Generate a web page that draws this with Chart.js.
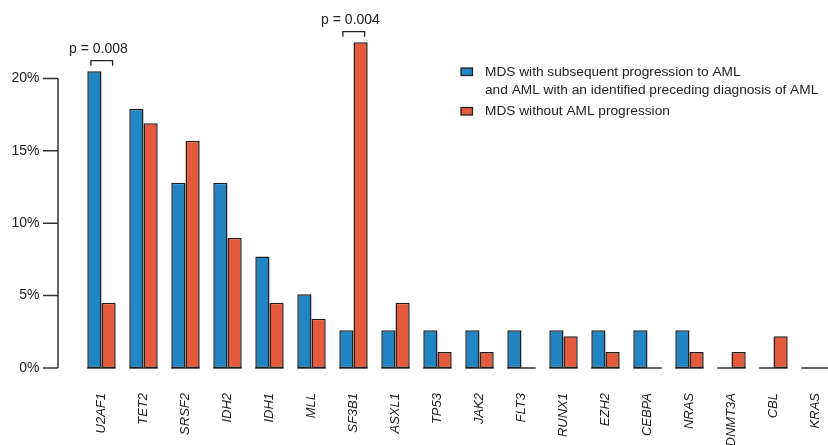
<!DOCTYPE html>
<html>
<head>
<meta charset="utf-8">
<script src="https://cdn.jsdelivr.net/npm/chart.js@4.4.1/dist/chart.umd.min.js"></script>
<style>
  html, body { margin: 0; padding: 0; background: #fff; overflow: hidden; }
  #wrap { width: 840px; height: 445px; }
</style>
</head>
<body>
<div id="wrap"><canvas id="mutChart" width="840" height="445"></canvas></div>
<script>
// gènes et fréquences (%)
const genes = ['U2AF1', 'TET2', 'SRSF2', 'IDH2', 'IDH1', 'MLL', 'SF3B1', 'ASXL1', 'TP53',
  'JAK2', 'FLT3', 'RUNX1', 'EZH2', 'CEBPA', 'NRAS', 'DNMT3A', 'CBL', 'KRAS'];
const progressed = [20.5, 17.9, 12.8, 12.8, 7.7, 5.1, 2.6, 2.6, 2.6, 2.6, 2.6, 2.6, 2.6, 2.6, 2.6, 0, 0, 0];
const nonProgressed = [4.5, 16.9, 15.7, 9.0, 4.5, 3.4, 22.5, 4.5, 1.1, 1.1, 0, 2.2, 1.1, 0, 1.1, 1.1, 2.2, 0];
const yTicks = [0, 5, 10, 15, 20];
const pLabels = ['p = 0.008', 'p = 0.004'];
const pIndex = [0, 6];
const legendLabels = [
  ['MDS with subsequent progression to AML', 'and AML with an identified preceding diagnosis of AML'],
  ['MDS without AML progression']
];
const colors = ['#2285c3', '#e55a3c'];

Chart.defaults.font.family = '"Liberation Sans", Arial, sans-serif';
Chart.defaults.color = '#222';

// axe y façon R, crochets p et légende
const extras = {
  id: 'extras',
  afterDatasetsDraw(chart) {
    const { ctx, chartArea, scales: { y } } = chart;
    const m0 = chart.getDatasetMeta(0);
    const m1 = chart.getDatasetMeta(1);
    const y0 = y.getPixelForValue(0);
    ctx.save();
    ctx.strokeStyle = '#222';
    ctx.lineWidth = 1.4;
    genes.forEach((g, i) => {
      const a = m0.data[i], b = m1.data[i];
      ctx.beginPath();
      ctx.moveTo(a.x - a.width / 2, y0);
      ctx.lineTo(b.x + b.width / 2, y0);
      ctx.stroke();
    });

    // axe
    const ax = chartArea.left - 22.5;
    ctx.strokeStyle = '#333';
    ctx.lineWidth = 1.5;
    ctx.beginPath();
    ctx.moveTo(ax, y.getPixelForValue(yTicks[0]));
    ctx.lineTo(ax, y.getPixelForValue(yTicks[yTicks.length - 1]));
    yTicks.forEach(v => {
      const py = y.getPixelForValue(v);
      ctx.moveTo(ax - 15, py);
      ctx.lineTo(ax, py);
    });
    ctx.stroke();

    // crochets
    ctx.strokeStyle = '#222';
    ctx.lineWidth = 1.3;
    ctx.fillStyle = '#222';
    ctx.font = '14px "Liberation Sans", Arial, sans-serif';
    ctx.textAlign = 'center';
    ctx.textBaseline = 'middle';
    pIndex.forEach((i, k) => {
      const a = m0.data[i], b = m1.data[i];
      const top = Math.min(a.y, b.y) - 10.5;
      const l = a.x - 3.5, r = b.x + 4;
      ctx.beginPath();
      ctx.moveTo(l, top + 5);
      ctx.lineTo(l, top);
      ctx.lineTo(r, top);
      ctx.lineTo(r, top + 5);
      ctx.stroke();
      ctx.fillText(pLabels[k], (a.x + b.x) / 2 - 3, top - 12);
    });

    // légende
    ctx.textAlign = 'left';
    ctx.font = '13.7px "Liberation Sans", Arial, sans-serif';
    let ly = 72;
    legendLabels.forEach((lines, k) => {
      ctx.fillStyle = colors[k];
      ctx.fillRect(461, ly - 4, 11.5, 7.5);
      ctx.strokeStyle = '#222';
      ctx.lineWidth = 1.3;
      ctx.strokeRect(461, ly - 4, 11.5, 7.5);
      ctx.fillStyle = '#222';
      lines.forEach((t, j) => ctx.fillText(t, 485, ly + j * 18.5));
      ly += lines.length * 18.5 + 2.5;
    });
    ctx.restore();
  }
};

const ctx = document.getElementById('mutChart').getContext('2d');
new Chart(ctx, {
  type: 'bar',
  data: {
    labels: genes,
    datasets: [
      {
        label: legendLabels[0].join(' '),
        data: progressed,
        backgroundColor: colors[0],
        borderColor: '#1e1e1e',
        borderWidth: 1.5,
        borderSkipped: false,
        barPercentage: 1,
        categoryPercentage: 0.676
      },
      {
        label: legendLabels[1][0],
        data: nonProgressed,
        backgroundColor: colors[1],
        borderColor: '#1e1e1e',
        borderWidth: 1.5,
        borderSkipped: false,
        barPercentage: 1,
        categoryPercentage: 0.676
      }
    ]
  },
  options: {
    responsive: false,
    animation: false,
    layout: { padding: { top: 6, right: 3.5, bottom: 0, left: 0 } },
    plugins: {
      legend: { display: false },
      tooltip: { enabled: false }
    },
    scales: {
      x: {
        offset: true,
        grid: { display: false, drawTicks: false, tickLength: 0 },
        border: { display: false },
        ticks: {
          autoSkip: false,
          maxRotation: 90,
          minRotation: 90,
          padding: 25,
          font: { size: 13, style: 'italic' }
        },
        afterFit: (s) => { s.height = 77; s.paddingLeft = 0; s.paddingRight = 0; }
      },
      y: {
        min: 0,
        max: 25,
        grid: { display: false, drawTicks: false, tickLength: 0 },
        border: { display: false },
        afterBuildTicks: (s) => { s.ticks = yTicks.map(v => ({ value: v })); },
        ticks: {
          padding: 41,
          font: { size: 14 },
          callback: (v) => v + '%'
        },
        afterFit: (s) => { s.width = 80.5; s.paddingTop = 0; s.paddingBottom = 0; }
      }
    }
  },
  plugins: [extras]
});
</script>
</body>
</html>
